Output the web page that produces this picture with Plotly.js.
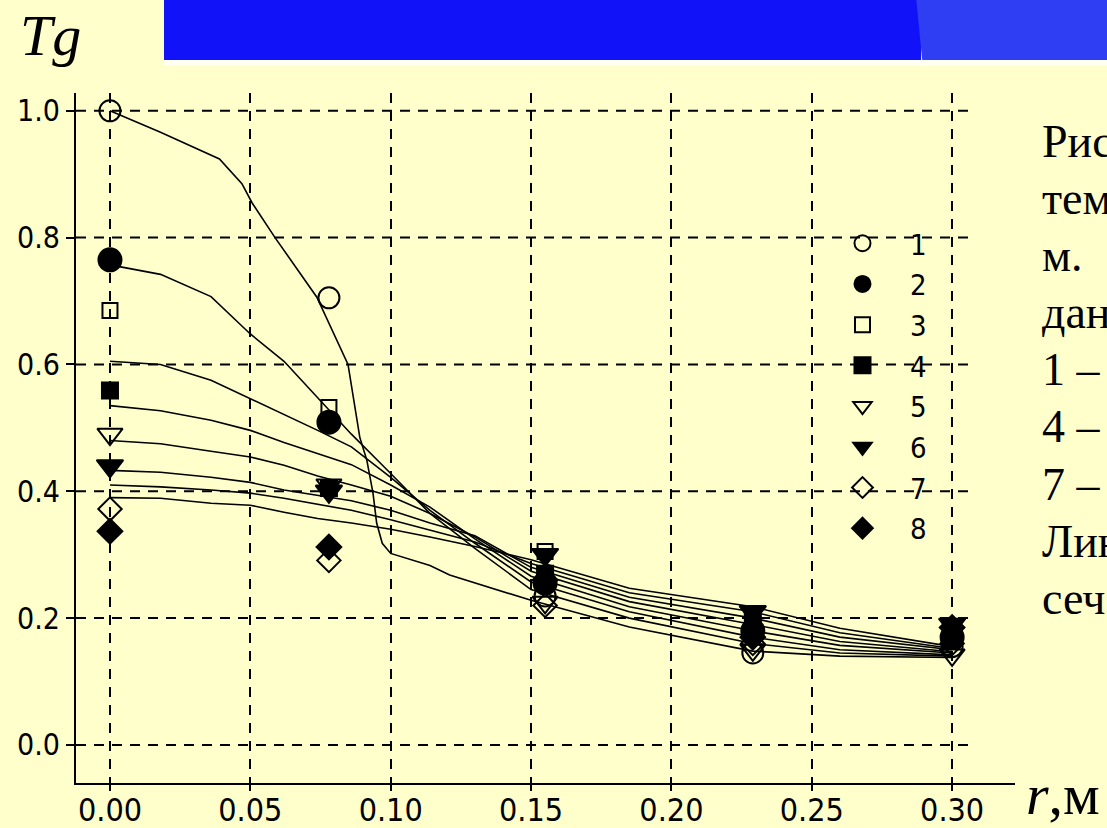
<!DOCTYPE html>
<html>
<head>
<meta charset="utf-8">
<script src="https://cdn.plot.ly/plotly-3.0.1.min.js"></script>
<style>html,body{margin:0;padding:0;background:#FFFFCC;}#chart{width:1107px;height:828px;}</style>
</head>
<body>
<div id="chart"></div>
<script>
// ---- data ----
const seriesNames = ["1", "2", "3", "4", "5", "6", "7", "8"];
const rPoints = [0, 0.078, 0.155, 0.229, 0.30];
const tg1 = [1.000, 0.705, 0.235, 0.145, 0.155];
const tg2 = [0.765, 0.509, 0.255, 0.180, 0.170];
const tg3 = [0.685, 0.532, 0.305, 0.190, 0.165];
const tg4 = [0.559, 0.405, 0.270, 0.200, 0.175];
const tg5 = [0.490, 0.410, 0.225, 0.150, 0.142];
const tg6 = [0.440, 0.400, 0.300, 0.210, 0.190];
const tg7 = [0.372, 0.291, 0.220, 0.160, 0.160];
const tg8 = [0.337, 0.312, 0.260, 0.170, 0.185];

// model curves
const curve1R = [0, 0.018, 0.039, 0.047, 0.0506, 0.0588, 0.0737, 0.082, 0.0848, 0.089, 0.0915, 0.0937, 0.095, 0.097, 0.100, 0.114, 0.121, 0.150, 0.185, 0.229, 0.260, 0.300];
const curve1 = [1.000, 0.966, 0.924, 0.885, 0.855, 0.800, 0.706, 0.627, 0.600, 0.485, 0.449, 0.397, 0.350, 0.318, 0.302, 0.283, 0.268, 0.228, 0.186, 0.148, 0.140, 0.138];
const curveR = [0, 0.018, 0.036, 0.050, 0.062, 0.074, 0.086, 0.100, 0.114, 0.130, 0.150, 0.185, 0.229, 0.260, 0.300];
const curve2 = [0.757, 0.742, 0.707, 0.648, 0.605, 0.548, 0.490, 0.428, 0.365, 0.310, 0.245, 0.200, 0.160, 0.145, 0.140];
const curve3 = [0.605, 0.600, 0.575, 0.546, 0.522, 0.496, 0.470, 0.422, 0.370, 0.318, 0.257, 0.210, 0.170, 0.150, 0.142];
const curve4 = [0.535, 0.527, 0.512, 0.496, 0.477, 0.460, 0.442, 0.410, 0.375, 0.325, 0.266, 0.218, 0.180, 0.157, 0.145];
const curve5 = [0.480, 0.475, 0.463, 0.454, 0.441, 0.424, 0.410, 0.392, 0.365, 0.328, 0.274, 0.226, 0.190, 0.163, 0.147];
const curve6 = [0.433, 0.430, 0.422, 0.414, 0.402, 0.393, 0.385, 0.370, 0.350, 0.330, 0.280, 0.233, 0.200, 0.170, 0.150];
const curve7 = [0.410, 0.407, 0.402, 0.397, 0.389, 0.380, 0.370, 0.355, 0.339, 0.320, 0.286, 0.240, 0.210, 0.177, 0.152];
const curve8 = [0.390, 0.389, 0.381, 0.378, 0.367, 0.357, 0.350, 0.340, 0.328, 0.313, 0.292, 0.247, 0.218, 0.184, 0.155];

const xTickVals = [0, 0.05, 0.10, 0.15, 0.20, 0.25, 0.30];
const xTickText = ["0.00", "0.05", "0.10", "0.15", "0.20", "0.25", "0.30"];
const yTickVals = [0, 0.2, 0.4, 0.6, 0.8, 1.0];
const yTickText = ["0.0", "0.2", "0.4", "0.6", "0.8", "1.0"];

const captionLines = ["Рис", "тем", "м.", "дан", "1 –", "4 –", "7 –", "Лин", "сеч"];

// ---- styles ----
const symbols = ["circle-open", "circle", "square-open", "square", "triangle-down-open", "triangle-down", "diamond-open", "diamond"];
const sizes = [21, 23, 15, 16, 22, 23, 18, 19];
const pixelFont = "'DejaVu Sans Condensed', 'Liberation Sans Narrow', 'DejaVu Sans', sans-serif";
const serif = "'Liberation Serif', 'Times New Roman', serif";
const xRange = [-0.0121, 0.3224];
const gridEndX = 0.307;

const curvesR = [curve1R, curveR, curveR, curveR, curveR, curveR, curveR, curveR];
const curves = [curve1, curve2, curve3, curve4, curve5, curve6, curve7, curve8];
const markerSeries = [tg1, tg2, tg3, tg4, tg5, tg6, tg7, tg8];

const traces = [];
curves.forEach((c, i) => {
  traces.push({x: curvesR[i], y: c, mode: 'lines', type: 'scatter', showlegend: false,
    line: {color: '#000', width: 1.6}, hoverinfo: 'skip'});
});
markerSeries.forEach((s, i) => {
  traces.push({x: rPoints, y: s, mode: 'markers', type: 'scatter', name: seriesNames[i],
    marker: {symbol: symbols[i], size: sizes[i], color: '#000', line: {color: '#000', width: 2}}});
});

const annotations = [
  {xref: 'paper', yref: 'paper', x: -0.062, y: 1.133, xanchor: 'left', yanchor: 'top', showarrow: false,
   text: '<i>Tg</i>', font: {family: serif, size: 58, color: '#000'}},
  {xref: 'paper', yref: 'paper', x: 1.0096, y: 0.033, xanchor: 'left', yanchor: 'top', showarrow: false,
   text: '<i>r</i>,м', font: {family: serif, size: 58, color: '#000'}}
];
captionLines.forEach((t, i) => {
  annotations.push({xref: 'paper', yref: 'paper', x: 1.0266, y: 0.93 - i * 0.0828, xanchor: 'left', yanchor: 'middle',
    showarrow: false, text: t, align: 'left', font: {family: serif, size: 46, color: '#000'}});
});

const shapes = [
  {type: 'rect', xref: 'paper', yref: 'paper', x0: 0.0937, x1: 0.9, y0: 1.048, y1: 1.14, fillcolor: '#1212F8', line: {width: 0}, layer: 'below'},
  {type: 'path', xref: 'paper', yref: 'paper', path: 'M 0.8945 1.14 L 1.1 1.14 L 1.1 1.048 L 0.9012 1.048 Z', fillcolor: '#2F3EF2', line: {width: 0}, layer: 'below'},
  {type: 'rect', xref: 'paper', yref: 'paper', x0: 0.0937, x1: 1.1, y0: 1.04, y1: 1.048, fillcolor: '#FFFFF2', line: {width: 0}, layer: 'below'}
];
// horizontal dashed grid lines, ending short of the axis end as in the original
yTickVals.forEach(v => {
  shapes.push({type: 'line', xref: 'x', yref: 'y', x0: xRange[0], x1: gridEndX, y0: v, y1: v,
    line: {color: '#000', width: 2, dash: '10px,8px'}, layer: 'below'});
});

const layout = {
  width: 1107, height: 828,
  paper_bgcolor: '#FFFFCC', plot_bgcolor: '#FFFFCC',
  margin: {l: 76, r: 92, t: 93, b: 45},
  showlegend: true,
  legend: {x: 0.787, y: 0.819, xanchor: 'left', yanchor: 'top', bgcolor: 'rgba(0,0,0,0)',
    font: {family: pixelFont, size: 29, color: '#000'}, itemwidth: 85, tracegroupgap: 0},
  xaxis: {range: xRange, tickvals: xTickVals, ticktext: xTickText, showline: true, linecolor: '#000', linewidth: 2,
    ticks: 'outside', ticklen: 6, tickwidth: 2, tickcolor: '#000', showgrid: true, gridcolor: '#000', gridwidth: 2, griddash: '10px,8px',
    zeroline: false, ticklabelstandoff: -8, tickfont: {family: pixelFont, size: 32, color: '#000'}, fixedrange: true},
  yaxis: {range: [-0.06, 1.028], tickvals: yTickVals, ticktext: yTickText, showline: true, linecolor: '#000', linewidth: 2,
    ticks: 'outside', ticklen: 8, tickwidth: 2, tickcolor: '#000', showgrid: false,
    zeroline: false, tickfont: {family: pixelFont, size: 30, color: '#000'}, fixedrange: true},
  annotations: annotations,
  shapes: shapes
};

Plotly.newPlot('chart', traces, layout, {displayModeBar: false, staticPlot: true});
</script>
</body>
</html>
